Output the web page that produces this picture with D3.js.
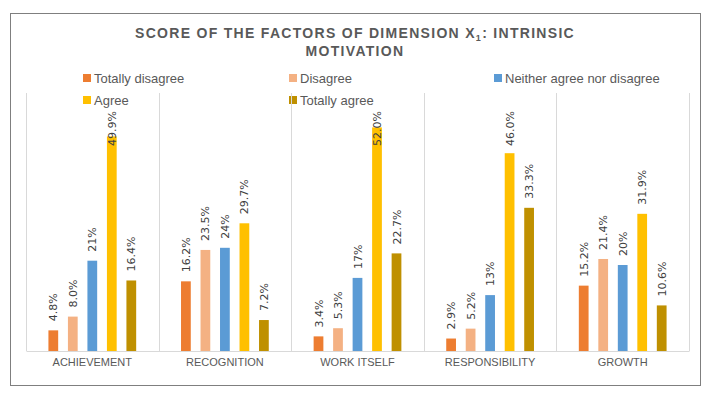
<!DOCTYPE html>
<html>
<head>
<meta charset="utf-8">
<script src="https://cdn.jsdelivr.net/npm/d3@7"></script>
<style>
  body { margin: 0; background: #fff; }
  svg { display: block; }
</style>
</head>
<body>
<div id="chart"></div>
<script>
  // chart values
  var categories = ["ACHIEVEMENT", "RECOGNITION", "WORK ITSELF", "RESPONSIBILITY", "GROWTH"];
  var seriesNames = ["Totally disagree", "Disagree", "Neither agree nor disagree", "Agree", "Totally agree"];
  var totallyDisagree = [4.8, 16.2, 3.4, 2.9, 15.2];
  var disagree = [8.0, 23.5, 5.3, 5.2, 21.4];
  var neither = [21, 24, 17, 13, 20];
  var agree = [49.9, 29.7, 52.0, 46.0, 31.9];
  var totallyAgree = [16.4, 7.2, 22.7, 33.3, 10.6];
  var labelDecimals = [1, 1, 0, 1, 1];
  var colors = ["#ED7D31", "#F4B183", "#5B9BD5", "#FFC000", "#BF9000"];

  var seriesValues = [totallyDisagree, disagree, neither, agree, totallyAgree];

  var width = 708, height = 398;
  var plot = { left: 26, right: 689, top: 93, bottom: 351 };

  var svg = d3.select("#chart").append("svg")
    .attr("width", width)
    .attr("height", height);

  // chart frame
  svg.append("rect")
    .attr("x", 10.5).attr("y", 13.5)
    .attr("width", 690).attr("height", 372)
    .attr("fill", "#fff")
    .attr("stroke", "#7f7f7f")
    .attr("stroke-width", 1);

  // title
  var title = svg.append("text")
    .attr("text-anchor", "middle")
    .attr("font-family", "'Liberation Sans', Arial, sans-serif")
    .attr("font-size", 14)
    .attr("font-weight", "bold")
    .attr("letter-spacing", 1.3)
    .attr("fill", "#595959");
  var t1 = title.append("tspan").attr("x", 355).attr("y", 38);
  t1.append("tspan").text("SCORE OF THE FACTORS OF DIMENSION X");
  t1.append("tspan").attr("font-size", 9).attr("dy", 3).text("1");
  t1.append("tspan").attr("dy", -3).text(": INTRINSIC");
  title.append("tspan").attr("x", 355).attr("y", 56).text("MOTIVATION");

  // legend
  var legendCols = [83, 289, 494];
  var legendRows = [78, 100];
  var legend = svg.selectAll(".legend")
    .data(seriesNames)
    .enter().append("g")
    .attr("class", "legend")
    .attr("transform", function(d, i) {
      return "translate(" + legendCols[i % 3] + "," + legendRows[Math.floor(i / 3)] + ")";
    });
  legend.append("rect")
    .attr("x", 0).attr("y", -4)
    .attr("width", 8).attr("height", 8)
    .attr("fill", function(d, i) { return colors[i]; });
  legend.append("text")
    .attr("x", 11).attr("y", 4.5)
    .attr("font-family", "'Liberation Sans', Arial, sans-serif")
    .attr("font-size", 13)
    .attr("fill", "#595959")
    .text(function(d) { return d; });

  // scales
  var x0 = d3.scaleBand().domain(categories).range([plot.left, plot.right]);
  var x1 = d3.scaleBand().domain(seriesNames).range([0, x0.bandwidth()])
    .paddingInner(0.5).paddingOuter(1.15);
  var y = d3.scaleLinear().domain([0, 60]).range([plot.bottom, plot.top]);

  // vertical separators
  var seps = categories.map(function(c) { return x0(c); }).concat([plot.right]);
  svg.selectAll(".sep")
    .data(seps)
    .enter().append("line")
    .attr("class", "sep")
    .attr("x1", function(d) { return Math.round(d) + 0.5; })
    .attr("x2", function(d) { return Math.round(d) + 0.5; })
    .attr("y1", plot.top).attr("y2", plot.bottom)
    .attr("stroke", "#d9d9d9");

  // category axis
  var xAxis = svg.append("g")
    .attr("transform", "translate(0," + plot.bottom + ")")
    .call(d3.axisBottom(x0).tickSize(0).tickPadding(7));
  xAxis.select(".domain").attr("stroke", "#d9d9d9");
  xAxis.selectAll("text")
    .attr("font-family", "'Liberation Sans', Arial, sans-serif")
    .attr("font-size", 11)
    .attr("fill", "#595959");

  // bars
  var cells = [];
  seriesValues.forEach(function(vals, s) {
    vals.forEach(function(v, c) {
      cells.push({ s: s, c: c, value: v });
    });
  });

  var groups = svg.selectAll(".cell")
    .data(cells)
    .enter().append("g")
    .attr("class", "cell")
    .attr("transform", function(d) {
      return "translate(" + (x0(categories[d.c]) + x1(seriesNames[d.s])) + ",0)";
    });

  groups.append("rect")
    .attr("x", 0)
    .attr("y", function(d) { return y(d.value); })
    .attr("width", x1.bandwidth())
    .attr("height", function(d) { return plot.bottom - y(d.value); })
    .attr("fill", function(d) { return colors[d.s]; });

  groups.append("text")
    .attr("transform", function(d) {
      var ly = Math.max(y(d.value) - 9, 146);
      return "translate(" + (x1.bandwidth() / 2 + 4) + "," + ly + ") rotate(-90)";
    })
    .attr("font-family", "'DejaVu Sans', Verdana, sans-serif")
    .attr("font-size", 11)
    .attr("fill", "#404040")
    .text(function(d) { return d.value.toFixed(labelDecimals[d.s]) + "%"; });
</script>
</body>
</html>
